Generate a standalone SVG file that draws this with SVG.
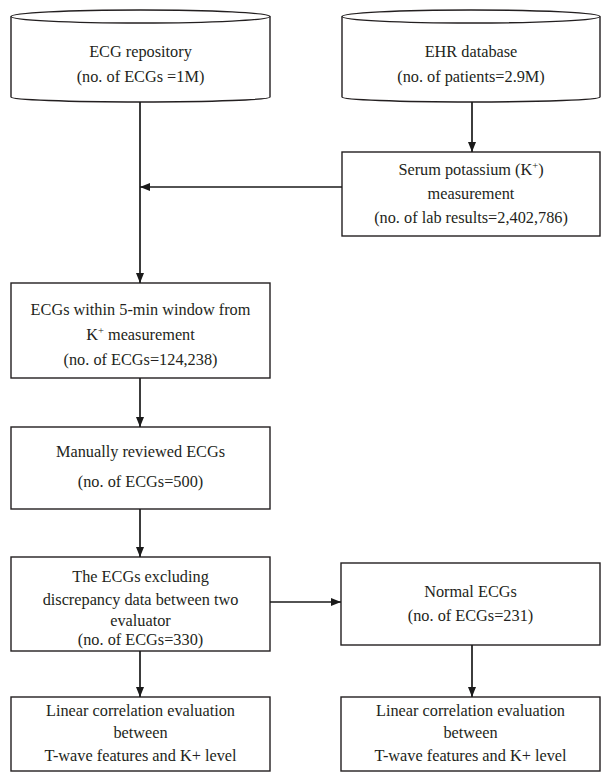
<svg xmlns="http://www.w3.org/2000/svg" width="611" height="782" viewBox="0 0 611 782">
<defs>
<marker id="arrow" markerUnits="userSpaceOnUse" markerWidth="10" markerHeight="10" viewBox="0 0 10 10" refX="10" refY="5" orient="auto">
<path d="M0,1 L10,5 L0,9 Z" fill="#1a1a1a"/>
</marker>
</defs>
<style>
.shape{fill:#fff;stroke:#231f20;stroke-width:1.4}
.conn{fill:none;stroke:#1a1a1a;stroke-width:1.7;marker-end:url(#arrow)}
text{font-family:"Liberation Serif","Times New Roman",serif;font-size:16.3px;fill:#231f20;text-anchor:middle}
.sup{font-size:10.5px}
</style>
<rect width="611" height="782" fill="#fff"/>
<g id="ecg-repository">
<path class="shape" d="M11,16.5 L11,97 A129.5,5 0 0 0 270,97 L270,16.5"/>
<ellipse class="shape" cx="140.5" cy="16.5" rx="129.5" ry="6.5"/>
<text x="140.5" y="57">ECG repository</text>
<text x="140.5" y="82">(no. of ECGs =1M)</text>
</g>
<g id="ehr-database">
<path class="shape" d="M342,16.5 L342,97 A129,5 0 0 0 600,97 L600,16.5"/>
<ellipse class="shape" cx="471" cy="16.5" rx="129" ry="6.5"/>
<text x="471" y="57">EHR database</text>
<text x="471" y="82">(no. of patients=2.9M)</text>
</g>
<g id="serum-potassium">
<rect class="shape" x="342" y="152" width="258" height="84"/>
<text x="471" y="175">Serum potassium (K<tspan class="sup" dy="-6">+</tspan><tspan dy="6">)</tspan></text>
<text x="471" y="199">measurement</text>
<text x="471" y="223">(no. of lab results=2,402,786)</text>
</g>
<g id="ecgs-window">
<rect class="shape" x="11" y="283" width="259" height="95"/>
<text x="140.5" y="315">ECGs within 5-min window from</text>
<text x="140.5" y="340">K<tspan class="sup" dy="-6">+</tspan><tspan dy="6"> measurement</tspan></text>
<text x="140.5" y="365">(no. of ECGs=124,238)</text>
</g>
<g id="manually-reviewed">
<rect class="shape" x="11" y="427" width="259" height="82"/>
<text x="140.5" y="457">Manually reviewed ECGs</text>
<text x="140.5" y="487">(no. of ECGs=500)</text>
</g>
<g id="excluding-discrepancy">
<rect class="shape" x="11" y="557" width="259" height="94"/>
<text x="140.5" y="582">The ECGs excluding</text>
<text x="140.5" y="605">discrepancy data between two</text>
<text x="140.5" y="626">evaluator</text>
<text x="140.5" y="645">(no. of ECGs=330)</text>
</g>
<g id="normal-ecgs">
<rect class="shape" x="341" y="563" width="259" height="82"/>
<text x="470.5" y="597">Normal ECGs</text>
<text x="470.5" y="621">(no. of ECGs=231)</text>
</g>
<g id="linear-left">
<rect class="shape" x="11" y="697" width="259" height="74"/>
<text x="140.5" y="716">Linear correlation evaluation</text>
<text x="140.5" y="738">between</text>
<text x="140.5" y="761">T-wave features and K+ level</text>
</g>
<g id="linear-right">
<rect class="shape" x="341" y="697" width="259" height="74"/>
<text x="470.5" y="716">Linear correlation evaluation</text>
<text x="470.5" y="738">between</text>
<text x="470.5" y="761">T-wave features and K+ level</text>
</g>
<g id="connectors">
<line class="conn" x1="140" y1="102" x2="140" y2="283"/>
<line class="conn" x1="472" y1="102" x2="472" y2="152"/>
<line class="conn" x1="342" y1="187" x2="140" y2="187"/>
<line class="conn" x1="140" y1="378" x2="140" y2="427"/>
<line class="conn" x1="140" y1="509" x2="140" y2="557"/>
<line class="conn" x1="270" y1="602" x2="341" y2="602"/>
<line class="conn" x1="140" y1="651" x2="140" y2="697"/>
<line class="conn" x1="472" y1="645" x2="472" y2="697"/>
</g>
</svg>
